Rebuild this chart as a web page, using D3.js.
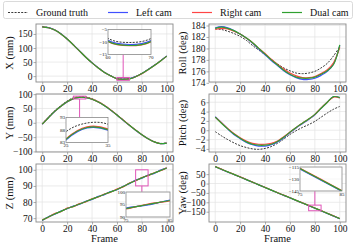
<!DOCTYPE html>
<html>
<head>
<meta charset="utf-8">
<script src="https://cdn.jsdelivr.net/npm/d3@7"></script>
<style>
  body { margin: 0; background: #fff; }
  svg, svg text { font-family: "Liberation Serif", "Times New Roman", "DejaVu Serif", serif; }
</style>
</head>
<body>
<svg id="chart" width="357" height="246"></svg>
<script>
// frames sampled every 5
var frames = [0, 5, 10, 15, 20, 25, 30, 35, 40, 45, 50, 55, 60, 65, 70, 75, 80, 85, 90, 95, 100];
var frameTicks = [0, 20, 40, 60, 80, 100];
var seriesNames = ['Ground truth', 'Left cam', 'Right cam', 'Dual cam'];

var xTruth = [176, 173, 165, 151, 133, 112, 90, 68, 48, 30, 14, 2, -8.5, -10.2, -8.6, -1, 10, 24, 39, 55, 72];
var xLeft  = [175.5, 172.4, 164.3, 150.4, 132.3, 111.4, 89.3, 67.3, 47.3, 29.3, 13.2, 1.2, -9.3, -11.0, -9.4, -1.8, 9.3, 23.3, 38.3, 54.3, 71.4];
var xRight = [175.2, 172.1, 164.0, 150.1, 132.0, 111.1, 89.0, 67.0, 47.0, 29.0, 12.8, 0.8, -9.8, -11.5, -9.9, -2.2, 8.9, 22.9, 37.9, 53.9, 71.1];
var xDual  = [175.3, 172.2, 164.1, 150.2, 132.1, 111.2, 89.1, 67.1, 47.1, 29.1, 12.9, 0.9, -9.7, -11.4, -9.8, -2.1, 9.0, 23.0, 38.0, 54.0, 71.2];

var yTruth = [-3, 20, 42, 60, 76, 87.3, 90.8, 90.3, 84, 74, 61, 45, 28, 10, -8, -25, -41, -55, -66, -72, -70];
var yLeft  = [-5, 17.5, 39.5, 57.5, 73, 84.0, 88.8, 87.9, 82, 72.5, 59.5, 44, 27, 9, -9, -26, -42, -56, -67, -73, -71];
var yRight = [-4.6, 18, 40, 58, 73.5, 84.5, 89.3, 88.4, 82.5, 73, 60, 44.5, 27.5, 9.5, -8.5, -25.5, -41.5, -55.5, -66.5, -72.5, -70.5];
var yDual  = [-4.8, 17.7, 39.7, 57.7, 73.2, 84.3, 89.0, 88.1, 82.2, 72.7, 59.7, 44.2, 27.2, 9.2, -8.8, -25.8, -41.8, -55.8, -66.8, -72.8, -70.8];

var zTruth = [68.8, 70.8, 72.6, 74.2, 76.0, 77.3, 78.8, 80.3, 81.8, 83.3, 84.8, 86.3, 87.8, 89.6, 91.6, 93.4, 95.0, 96.6, 98.0, 99.6, 101.2];
var zLeft  = [68.6, 70.9, 72.4, 74.4, 75.8, 77.5, 78.6, 80.5, 81.6, 83.5, 84.6, 86.5, 87.6, 89.8, 91.4, 93.6, 94.8, 96.8, 97.8, 99.8, 101.0];
var zRight = [68.9, 70.6, 72.8, 74.0, 76.2, 77.1, 79.0, 80.1, 82.0, 83.1, 85.0, 86.1, 88.0, 89.4, 91.8, 93.2, 95.2, 96.4, 98.2, 99.4, 101.3];
var zDual  = [68.7, 70.7, 72.6, 74.2, 76.0, 77.3, 78.8, 80.3, 81.8, 83.3, 84.8, 86.3, 87.8, 89.6, 91.6, 93.4, 95.0, 96.6, 98.0, 99.6, 101.1];

var rollTruth = [183.4, 183.3, 183.0, 182.6, 182.1, 181.4, 180.5, 179.7, 178.9, 178.1, 177.3, 176.6, 176.1, 175.7, 175.6, 175.7, 176.0, 176.6, 177.4, 178.7, 180.3];
var rollLeft  = [183.6, 183.8, 183.6, 183.1, 182.5, 181.8, 180.9, 179.9, 178.9, 177.9, 177.0, 176.1, 175.4, 174.9, 174.6, 174.6, 174.8, 175.3, 176.0, 177.3, 180.5];
var rollRight = [183.3, 183.5, 183.4, 183.0, 182.5, 181.8, 181.0, 180.0, 179.1, 178.1, 177.2, 176.4, 175.7, 175.2, 174.9, 174.9, 175.1, 175.6, 176.3, 177.5, 180.2];
var rollDual  = [183.5, 183.7, 183.5, 183.1, 182.5, 181.8, 181.0, 180.0, 179.0, 178.0, 177.1, 176.2, 175.5, 175.0, 174.8, 174.8, 175.0, 175.5, 176.1, 177.2, 180.6];

var pitchTruth = [-0.3, -1.2, -2.0, -2.7, -3.3, -3.7, -4.0, -4.1, -3.9, -3.5, -2.8, -1.9, -0.9, -0.1, 0.6, 1.2, 1.9, 2.8, 3.7, 4.5, 5.1];
var pitchLeft  = [2.9, 1.6, 0.3, -0.9, -1.8, -2.6, -3.1, -3.4, -3.4, -3.1, -2.5, -1.6, -0.5, 0.5, 1.4, 2.3, 3.3, 4.7, 6.0, 7.2, 7.0];
var pitchRight = [2.8, 1.6, 0.4, -0.7, -1.6, -2.3, -2.8, -3.0, -3.0, -2.8, -2.3, -1.4, -0.4, 0.6, 1.5, 2.4, 3.4, 4.8, 6.0, 7.1, 6.9];
var pitchDual  = [2.8, 1.5, 0.3, -0.8, -1.7, -2.5, -3.0, -3.2, -3.2, -3.0, -2.4, -1.5, -0.4, 0.6, 1.5, 2.4, 3.4, 4.7, 6.0, 7.2, 7.0];

var yawTruth = [90, 76, 62, 48.5, 35, 21, 7, -7, -21, -35, -49, -62.5, -76, -90, -103.5, -117, -131, -145, -159, -173, -187];
var yawLeft  = [89.5, 75.6, 61.4, 48.0, 34.4, 20.6, 6.5, -7.4, -21.5, -35.4, -49.5, -63.0, -76.4, -90.5, -104.0, -117.5, -131.4, -145.5, -159.4, -173.5, -187.4];
var yawRight = [90.4, 76.5, 62.4, 49.0, 35.5, 21.4, 7.5, -6.6, -20.5, -34.5, -48.6, -62.0, -75.5, -89.6, -103.0, -116.6, -130.5, -144.6, -158.5, -172.6, -186.6];
var yawDual  = [90, 76, 62, 48.5, 35, 21, 7, -7, -21, -35, -49, -62.5, -76, -90, -103.5, -117, -131, -145, -159, -173, -187];

var xTicks = [0, 50, 100, 150], yTicks = [-100, -50, 0, 50, 100], zTicks = [70, 80, 90, 100];
var rollTicks = [174, 176, 178, 180, 182, 184], pitchTicks = [-4, -2, 0, 2, 4, 6], yawTicks = [-150, -100, -50, 0, 50];

var serif = '"Liberation Serif", "Times New Roman", "DejaVu Serif", serif';
var colors = ['#222', '#4050ff', '#ff4545', '#30a030'];
var pink = '#e055b8';
var spine = '#8a8a8a';

var svg = d3.select('#chart').attr('font-family', serif);
var cols = [[36, 173], [209, 346]];
var rows = [24, 94, 164];
var ph = 58;

var panels = [
  { label: 'X (mm)', col: 0, row: 0, domain: [-20.9, 185.4], ticks: xTicks, data: [xTruth, xLeft, xRight, xDual],
    inset: { fx: [60, 70], fy: [-15, -5], yt: [-5, -10, -15], box: [108, 29.5, 43, 25] } },
  { label: 'Roll (deg)', col: 1, row: 0, domain: [174.14, 184.26], ticks: rollTicks, data: [rollTruth, rollLeft, rollRight, rollDual] },
  { label: 'Y (mm)', col: 0, row: 1, domain: [-102, 100.5], ticks: yTicks, data: [yTruth, yLeft, yRight, yDual],
    inset: { fx: [25, 35], fy: [83, 93], yt: [93, 88, 83], box: [66, 117.5, 42, 25] } },
  { label: 'Pitch (deg)', col: 1, row: 1, domain: [-4.665, 7.765], ticks: pitchTicks, data: [pitchTruth, pitchLeft, pitchRight, pitchDual] },
  { label: 'Z (mm)', col: 0, row: 2, domain: [67.6, 103.6], ticks: zTicks, data: [zTruth, zLeft, zRight, zDual],
    inset: { fx: [75, 85], fy: [90, 100], yt: [100, 95, 90], box: [126, 192, 44, 25] } },
  { label: 'Yaw (deg)', col: 1, row: 2, domain: [-205, 104], ticks: yawTicks, data: [yawTruth, yawLeft, yawRight, yawDual],
    inset: { fx: [75, 85], fy: [-145, -115], yt: [-115, -130, -145], box: [300, 167, 42, 24] } }
];

function drawLines(g, x, y, data) {
  var line = d3.line()
    .x(function(d, i) { return x(frames[i]); })
    .y(function(d) { return y(d); })
    .curve(d3.curveCatmullRom);
  data.forEach(function(vals, k) {
    g.append('path')
      .attr('d', line(vals))
      .attr('fill', 'none')
      .attr('stroke', colors[k])
      .attr('stroke-width', k === 0 ? 0.9 : 1.2)
      .attr('stroke-dasharray', k === 0 ? '2,1.3' : null);
  });
}

panels.forEach(function(p, idx) {
  var left = cols[p.col][0], right = cols[p.col][1];
  var top = rows[p.row], bottom = top + ph;
  var x = d3.scaleLinear().domain([-5, 105]).range([left, right]);
  var y = d3.scaleLinear().domain(p.domain).range([bottom, top]);
  var g = svg.append('g');

  // grid
  g.selectAll('.vg').data(frameTicks).enter().append('line')
    .attr('x1', x).attr('x2', x).attr('y1', top).attr('y2', bottom)
    .attr('stroke', '#e3e3e3').attr('stroke-width', 0.7);
  g.selectAll('.hg').data(p.ticks).enter().append('line')
    .attr('y1', y).attr('y2', y).attr('x1', left).attr('x2', right)
    .attr('stroke', '#e3e3e3').attr('stroke-width', 0.7);

  var clipId = 'clip' + idx;
  svg.append('clipPath').attr('id', clipId).append('rect')
    .attr('x', left).attr('y', top).attr('width', right - left).attr('height', ph);
  var lines = g.append('g').attr('clip-path', 'url(#' + clipId + ')');
  drawLines(lines, x, y, p.data);

  // axes
  var ax = g.append('g').attr('transform', 'translate(0,' + bottom + ')')
    .call(d3.axisBottom(x).tickValues(frameTicks).tickSize(2.5).tickPadding(0.5).tickSizeOuter(0));
  var ay = g.append('g').attr('transform', 'translate(' + left + ',0)')
    .call(d3.axisLeft(y).tickValues(p.ticks).tickSize(2.5).tickPadding(1).tickSizeOuter(0));
  [ax, ay].forEach(function(a) {
    a.attr('font-family', serif).attr('font-size', 9.5);
    a.select('.domain').remove();
    a.selectAll('line').attr('stroke', spine).attr('stroke-width', 0.7);
    a.selectAll('text').attr('fill', '#111');
  });

  g.append('text')
    .attr('transform', 'translate(' + (left - 24) + ',' + (top + ph / 2) + ') rotate(-90)')
    .attr('text-anchor', 'middle').attr('dy', '0.1em')
    .attr('font-size', 10.5).attr('fill', '#111').text(p.label);

  if (p.row === 2) {
    g.append('text').attr('x', (left + right) / 2).attr('y', 242)
      .attr('text-anchor', 'middle').attr('font-size', 10.5).attr('fill', '#111').text('Frame');
  }

  if (p.inset) {
    var s = p.inset, b = s.box;
    var rx0 = x(s.fx[0]), rx1 = x(s.fx[1]), ry0 = y(s.fy[1]), ry1 = y(s.fy[0]);
    g.append('rect').attr('x', rx0).attr('y', ry0).attr('width', rx1 - rx0).attr('height', ry1 - ry0)
      .attr('fill', 'none').attr('stroke', pink).attr('stroke-width', 1);
    var cx = (rx0 + rx1) / 2;
    var above = b[1] + b[3] < ry0;
    g.append('line').attr('x1', cx).attr('x2', cx)
      .attr('y1', above ? b[1] + b[3] : b[1])
      .attr('y2', above ? ry0 : ry1)
      .attr('stroke', pink).attr('stroke-width', 1);

    var ix = d3.scaleLinear().domain(s.fx).range([b[0], b[0] + b[2]]);
    var iy = d3.scaleLinear().domain(s.fy).range([b[1] + b[3], b[1]]);
    var ig = g.append('g');
    ig.append('rect').attr('x', b[0]).attr('y', b[1]).attr('width', b[2]).attr('height', b[3]).attr('fill', '#fff');
    var iclip = 'iclip' + idx;
    svg.append('clipPath').attr('id', iclip).append('rect')
      .attr('x', b[0]).attr('y', b[1]).attr('width', b[2]).attr('height', b[3]);
    ig.selectAll('.ig').data(s.yt).enter().append('line')
      .attr('x1', b[0]).attr('x2', b[0] + b[2]).attr('y1', iy).attr('y2', iy)
      .attr('stroke', '#ececec').attr('stroke-width', 0.5);
    drawLines(ig.append('g').attr('clip-path', 'url(#' + iclip + ')'), ix, iy, p.data);
    ig.append('rect').attr('x', b[0]).attr('y', b[1]).attr('width', b[2]).attr('height', b[3])
      .attr('fill', 'none').attr('stroke', spine).attr('stroke-width', 0.8);
    ig.selectAll('.iyt').data(s.yt).enter().append('text')
      .attr('x', b[0] - 1).attr('y', iy).attr('dy', '0.35em')
      .attr('text-anchor', 'end').attr('font-size', 5).attr('fill', '#111')
      .text(d3.format('d'));
    ig.selectAll('.ixt').data(s.fx).enter().append('text')
      .attr('x', ix).attr('y', b[1] + b[3] + 1).attr('dy', '0.75em')
      .attr('text-anchor', 'middle').attr('font-size', 5).attr('fill', '#111')
      .text(d3.format('d'));
  }

  g.append('rect').attr('x', left).attr('y', top).attr('width', right - left).attr('height', ph)
    .attr('fill', 'none').attr('stroke', spine).attr('stroke-width', 0.9);
});

// legend
var leg = svg.append('g');
leg.append('rect').attr('x', 3.5).attr('y', 1.5).attr('width', 349).attr('height', 17)
  .attr('rx', 2).attr('fill', '#fff').attr('stroke', '#d0d0d0').attr('stroke-width', 0.8);
var legX = [8, 108, 192, 282];
seriesNames.forEach(function(name, k) {
  leg.append('line').attr('x1', legX[k]).attr('x2', legX[k] + 20).attr('y1', 12.5).attr('y2', 12.5)
    .attr('stroke', colors[k]).attr('stroke-width', k === 0 ? 0.9 : 1.2)
    .attr('stroke-dasharray', k === 0 ? '2,1.3' : null);
  leg.append('text').attr('x', legX[k] + 28).attr('y', 12.5).attr('dy', '0.35em')
    .attr('font-size', 10).attr('fill', '#111').text(name);
});
</script>
</body>
</html>
